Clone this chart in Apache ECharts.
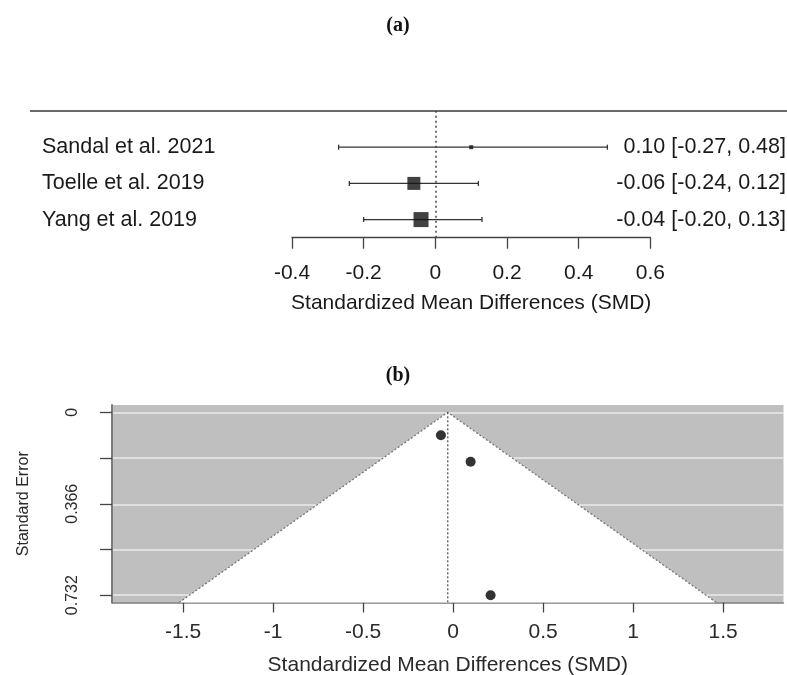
<!DOCTYPE html>
<html>
<head>
<meta charset="utf-8">
<script src="https://cdn.jsdelivr.net/npm/echarts@6/dist/echarts.min.js"></script>
<style>
  html, body { margin: 0; padding: 0; background: #fff; }
  #chart { width: 787px; height: 675px; }
</style>
</head>
<body>
<div id="chart"></div>
<script>
// ---- (a) forest plot data ----
const studies = ['Sandal et al. 2021', 'Toelle et al. 2019', 'Yang et al. 2019'];
const smd = [0.10, -0.06, -0.04];
const ciLow = [-0.27, -0.24, -0.20];
const ciHigh = [0.48, 0.12, 0.13];
const weights = [9.9, 41.5, 48.6];
const forestTicks = [-0.4, -0.2, 0, 0.2, 0.4, 0.6];

// ---- (b) funnel plot data ----
const funnelSMD = [-0.068, 0.097, 0.208];
const funnelSE = [0.092, 0.198, 0.732];
const pooledSMD = -0.03;
const seTicks = [0, 0.183, 0.366, 0.549, 0.732];
const seTickLabels = [0, 0.366, 0.732];
const funnelXTicks = [-1.5, -1, -0.5, 0, 0.5, 1, 1.5];

const rows = studies.map((_, i) => studies.length - i);
const wMin = Math.min(...weights), wMax = Math.max(...weights);
const sqSize = weights.map(w => 4 + (w - wMin) / (wMax - wMin) * 11);
const fmt2 = v => v.toFixed(2);
const ciText = studies.map((_, i) => `${fmt2(smd[i])} [${fmt2(ciLow[i])}, ${fmt2(ciHigh[i])}]`);

const seMax = Math.max(...seTicks);
const sePad = seMax * 0.04;
const yMin = -sePad, yMax = seMax + sePad;

const SANS = 'Liberation Sans, Arial, sans-serif';
const chart = echarts.init(document.getElementById('chart'), null, { renderer: 'canvas' });

const rowLabel = (arr) => (v) => {
  const r = Math.round(v);
  if (Math.abs(v - r) > 1e-6 || r < 1 || r > studies.length) return '';
  return arr[studies.length - r];
};

const option = {
  animation: false,
  backgroundColor: '#ffffff',
  title: [
    { text: '(a)', left: 393, top: 11, textAlign: 'center',
      textStyle: { fontFamily: 'Liberation Serif, serif', fontWeight: 'bold', fontSize: 20, color: '#111' } },
    { text: '(b)', left: 393, top: 361, textAlign: 'center',
      textStyle: { fontFamily: 'Liberation Serif, serif', fontWeight: 'bold', fontSize: 20, color: '#111' } }
  ],
  graphic: [
    { type: 'line', shape: { x1: 30, y1: 111, x2: 787, y2: 111 },
      style: { stroke: '#6a6a6a', lineWidth: 2 }, silent: true }
  ],
  grid: [
    { left: 292, right: 136.6, top: 111, bottom: 437.3, containLabel: false, outerBoundsMode: 'none' },
    { left: 112, right: 3.5, top: 405, bottom: 72.5, containLabel: false, outerBoundsMode: 'none',
      show: true, backgroundColor: '#bfbfbf', borderWidth: 0 }
  ],
  xAxis: [
    { type: 'value', gridIndex: 0, min: -0.4, max: 0.6, interval: 0.2,
      name: 'Standardized Mean Differences (SMD)', nameLocation: 'middle', nameGap: 55,
      nameTextStyle: { fontFamily: SANS, fontSize: 21, color: '#1a1a1a' },
      axisLine: { show: true, onZero: false, lineStyle: { color: '#444', width: 1.3 } },
      axisTick: { show: true, length: 11, lineStyle: { color: '#444', width: 1.3 } },
      axisLabel: { margin: 25, fontFamily: SANS, fontSize: 21, color: '#1a1a1a',
        formatter: v => (Math.abs(v) < 1e-9 ? '0' : String(Math.round(v * 10) / 10)) },
      splitLine: { show: false } },
    { type: 'value', gridIndex: 1, min: -1.895, max: 1.835,
      name: 'Standardized Mean Differences (SMD)', nameLocation: 'middle', nameGap: 52,
      nameTextStyle: { fontFamily: SANS, fontSize: 21, color: '#2a2a2a' },
      axisLine: { show: true, onZero: false, lineStyle: { color: '#7a7a7a', width: 1.5 } },
      axisTick: { show: true, length: 10, customValues: funnelXTicks, lineStyle: { color: '#444', width: 1.3 } },
      axisLabel: { margin: 19, fontFamily: SANS, fontSize: 21, color: '#2a2a2a', customValues: funnelXTicks,
        formatter: v => String(v) },
      splitLine: { show: false } }
  ],
  yAxis: [
    { type: 'value', gridIndex: 0, min: 0.5, max: 4, interval: 0.5, position: 'left',
      axisLine: { show: false }, axisTick: { show: false }, splitLine: { show: false },
      axisLabel: { show: true, align: 'left', margin: 250, fontFamily: SANS, fontSize: 21.5, color: '#1a1a1a',
        formatter: rowLabel(studies), showMinLabel: true, showMaxLabel: true } },
    { type: 'value', gridIndex: 0, min: 0.5, max: 4, interval: 0.5, position: 'right',
      axisLine: { show: false }, axisTick: { show: false }, splitLine: { show: false },
      axisLabel: { show: true, align: 'right', margin: 135.6, fontFamily: SANS, fontSize: 21.5, color: '#1a1a1a',
        formatter: rowLabel(ciText), showMinLabel: true, showMaxLabel: true } },
    { type: 'value', gridIndex: 1, min: yMin, max: yMax, inverse: true,
      name: 'Standard Error', nameLocation: 'middle', nameGap: 80, nameRotate: 90,
      nameTextStyle: { fontFamily: SANS, fontSize: 16, color: '#2a2a2a' },
      axisLine: { show: true, onZero: false, lineStyle: { color: '#7a7a7a', width: 2 } },
      axisTick: { show: true, length: 12, customValues: seTicks, lineStyle: { color: '#444', width: 1.3 } },
      axisLabel: { rotate: 90, margin: 31, fontFamily: SANS, fontSize: 16, color: '#2a2a2a',
        customValues: seTickLabels, formatter: v => String(v) },
      splitLine: { show: false } }
  ],
  series: [
    // forest: confidence intervals
    { type: 'custom', xAxisIndex: 0, yAxisIndex: 0, silent: true,
      data: studies.map((_, i) => [ciLow[i], ciHigh[i], rows[i]]),
      encode: { x: [0, 1], y: 2 },
      renderItem: (params, api) => {
        const p1 = api.coord([api.value(0), api.value(2)]);
        const p2 = api.coord([api.value(1), api.value(2)]);
        const h = 2.5;
        const st = { stroke: '#333', lineWidth: 1.3 };
        return { type: 'group', children: [
          { type: 'line', shape: { x1: p1[0], y1: p1[1], x2: p2[0], y2: p2[1] }, style: st },
          { type: 'line', shape: { x1: p1[0], y1: p1[1] - h, x2: p1[0], y2: p1[1] + h }, style: st },
          { type: 'line', shape: { x1: p2[0], y1: p2[1] - h, x2: p2[0], y2: p2[1] + h }, style: st }
        ] };
      },
      z: 2 },
    // forest: point estimates
    { type: 'scatter', xAxisIndex: 0, yAxisIndex: 0, silent: true,
      data: studies.map((_, i) => ({ value: [smd[i], rows[i]], symbolSize: sqSize[i] })),
      symbol: 'rect', itemStyle: { color: '#111' }, z: 3,
      markLine: { silent: true, symbol: 'none', label: { show: false },
        lineStyle: { type: [2, 3], color: '#444', width: 1.5 },
        data: [{ xAxis: 0 }] } },
    // funnel: light horizontal gridlines (under the white funnel region)
    { type: 'scatter', xAxisIndex: 1, yAxisIndex: 2, silent: true, data: [], z: 0,
      markLine: { silent: true, symbol: 'none', label: { show: false }, z: 0,
        lineStyle: { type: 'solid', color: '#ebebeb', width: 1.5 },
        data: seTicks.map(v => ({ yAxis: v })) } },
    // funnel: white triangle region
    { type: 'custom', xAxisIndex: 1, yAxisIndex: 2, silent: true,
      data: [[pooledSMD, yMax]],
      renderItem: (params, api) => {
        const est = api.value(0), bottom = api.value(1);
        const apex = api.coord([est, 0]);
        const bl = api.coord([est - 1.96 * bottom, bottom]);
        const br = api.coord([est + 1.96 * bottom, bottom]);
        return { type: 'polygon', shape: { points: [apex, bl, br] },
          style: { fill: '#ffffff', stroke: null } };
      },
      z: 1 },
    // funnel: dotted funnel edges and pooled estimate line
    { type: 'custom', xAxisIndex: 1, yAxisIndex: 2, silent: true,
      data: [[pooledSMD, yMax]],
      renderItem: (params, api) => {
        const est = api.value(0), bottom = api.value(1);
        const apex = api.coord([est, 0]);
        const bl = api.coord([est - 1.96 * bottom, bottom]);
        const br = api.coord([est + 1.96 * bottom, bottom]);
        const st = { stroke: '#777', lineWidth: 1.3, lineDash: [2, 2], fill: null };
        return { type: 'group', children: [
          { type: 'polyline', shape: { points: [bl, apex, br] }, style: st },
          { type: 'line', shape: { x1: apex[0], y1: apex[1], x2: apex[0], y2: bl[1] },
            style: { stroke: '#555', lineWidth: 1.3, lineDash: [2, 2] } }
        ] };
      },
      z: 3 },
    // funnel: studies
    { type: 'scatter', xAxisIndex: 1, yAxisIndex: 2, silent: true,
      data: funnelSMD.map((x, i) => [x, funnelSE[i]]),
      symbol: 'circle', symbolSize: 10, itemStyle: { color: '#000' }, z: 4 }
  ]
};
chart.setOption(option);
</script>
</body>
</html>
